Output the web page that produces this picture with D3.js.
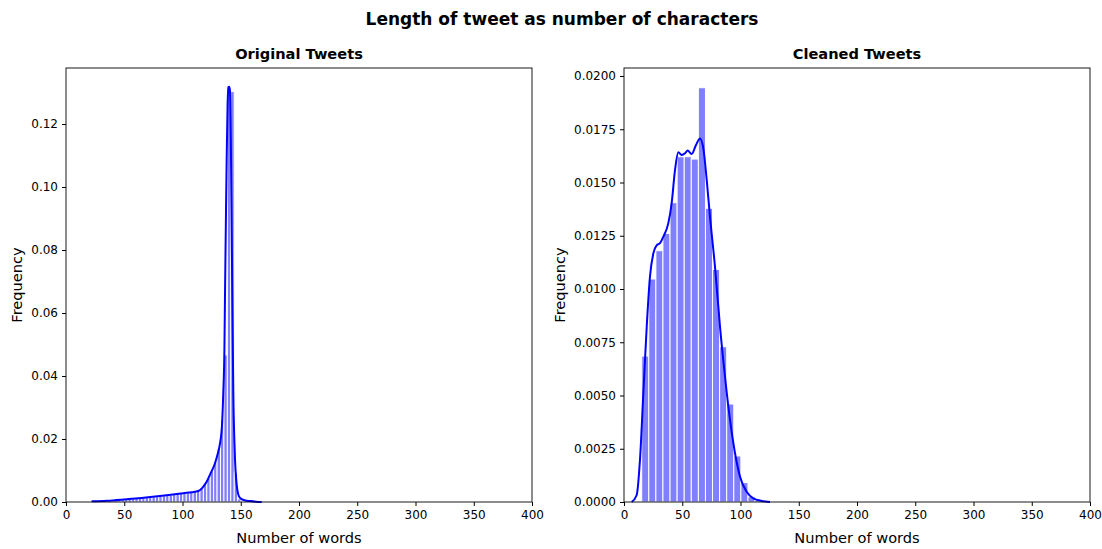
<!DOCTYPE html>
<html>
<head>
<meta charset="utf-8">
<script src="https://cdn.jsdelivr.net/npm/d3@7"></script>
<style>
  html, body { margin: 0; padding: 0; background: #fff; }
  svg text { font-family: "DejaVu Sans", sans-serif; fill: #000; }
</style>
</head>
<body>
<svg id="fig" width="1102" height="549"></svg>
<script>
// Original tweets: 50 bins, start edge and width
const origBinStart = 20.9;
const origBinWidth = 2.94;
const origHeights = [
  0.0001, 0.0002, 0.0002, 0.0003, 0.0003, 0.0004, 0.0004, 0.0005, 0.0006, 0.0007,
  0.0008, 0.0009, 0.0010, 0.0011, 0.0012, 0.0013, 0.0014, 0.0015, 0.0016, 0.0017,
  0.0018, 0.0020, 0.0022, 0.0022, 0.0024, 0.0025, 0.0027, 0.0028, 0.0029, 0.0031,
  0.0033, 0.0036, 0.0045, 0.0058, 0.0075, 0.0098, 0.0128, 0.0170, 0.0260, 0.0467,
  0.1318, 0.1303, 0.0092, 0.0010, 0.0003, 0.0001, 0.0001, 0.0000, 0.0000, 0.0001
];
// Original tweets: density curve
const origKdeX = [22, 35, 52.1, 65, 80.7, 90, 100.7, 108, 113.6, 117, 120.7, 124, 127.9, 130, 132.2, 134, 135, 136, 136.5, 137.2, 137.9, 138.7, 139.3, 140.1, 140.8, 141.5, 142.2, 142.9, 143.6, 144.4, 145.1, 146, 147.1, 148.5, 150.8, 154, 157.9, 163, 168];
const origKdeY = [0.0002, 0.0004, 0.0009, 0.0013, 0.0019, 0.0023, 0.0028, 0.0031, 0.0035, 0.0045, 0.0064, 0.0090, 0.0123, 0.0150, 0.0186, 0.0250, 0.0345, 0.0490, 0.0663, 0.0880, 0.1086, 0.1260, 0.1317, 0.1318, 0.1303, 0.1150, 0.0874, 0.0600, 0.0345, 0.0210, 0.0133, 0.0075, 0.0038, 0.0018, 0.0009, 0.0005, 0.0003, 0.0001, 0.0000];

// Cleaned tweets: 17 bins
const cleanBinStart = 15.2;
const cleanBinWidth = 6.08;
const cleanHeights = [
  0.00685, 0.01047, 0.0118, 0.01261, 0.01405, 0.01621, 0.01621, 0.0161, 0.01945,
  0.01379, 0.01092, 0.00729, 0.0046, 0.00216, 0.00091, 0.00025, 0.0001
];
// Cleaned tweets: density curve
const cleanKdeX = [6.6, 10.9, 13.7, 16.6, 19.5, 22.3, 25.2, 28.0, 30.9, 33.8, 38.0, 40.9, 43.8, 46.6, 49.5, 52.4, 54.6, 58.1, 61.8, 65.2, 68.1, 71.0, 73.8, 78.1, 82.4, 86.7, 91.0, 95.3, 99.6, 105.3, 111.0, 118.2, 125.3];
const cleanKdeY = [0, 0.00033, 0.00197, 0.0051, 0.00823, 0.01058, 0.01168, 0.01205, 0.01215, 0.01246, 0.01308, 0.01402, 0.01559, 0.01642, 0.01629, 0.01637, 0.0165, 0.01634, 0.01676, 0.01707, 0.0166, 0.01512, 0.0134, 0.01105, 0.00823, 0.00588, 0.00385, 0.00229, 0.00119, 0.00048, 0.00017, 0.00005, 0];

const xTicks = [0, 50, 100, 150, 200, 250, 300, 350, 400];
const origYTicks = [0, 0.02, 0.04, 0.06, 0.08, 0.10, 0.12];
const cleanYTicks = [0, 0.0025, 0.005, 0.0075, 0.01, 0.0125, 0.015, 0.0175, 0.02];

const svg = d3.select("#fig");

svg.append("text")
  .attr("x", 562).attr("y", 25)
  .attr("text-anchor", "middle")
  .attr("font-size", 17).attr("font-weight", "bold")
  .text("Length of tweet as number of characters");

function panel(opts) {
  const { left, right, top, bottom, yMax, yTicks, yFmt, binStart, binWidth, heights, kx, ky, title } = opts;
  const x = d3.scaleLinear().domain([0, 400]).range([left, right]);
  const y = d3.scaleLinear().domain([0, yMax]).range([bottom, top]);
  const g = svg.append("g");

  const bins = heights.map((h, i) => ({ x0: binStart + i * binWidth, x1: binStart + (i + 1) * binWidth, h }));
  g.append("g").selectAll("rect").data(bins).join("rect")
    .attr("x", d => x(d.x0))
    .attr("width", d => x(d.x1) - x(d.x0))
    .attr("y", d => y(d.h))
    .attr("height", d => y(0) - y(d.h))
    .attr("fill", "rgba(0,0,255,0.5)")
    .attr("stroke", "#fff")
    .attr("stroke-width", 1);

  const pts = kx.map((v, i) => [v, ky[i]]);
  g.append("path").datum(pts)
    .attr("fill", "none")
    .attr("stroke", "#0000ff")
    .attr("stroke-width", 2)
    .attr("d", d3.line().x(d => x(d[0])).y(d => y(d[1])).curve(d3.curveMonotoneX));

  // frame
  g.append("rect")
    .attr("x", left).attr("y", top)
    .attr("width", right - left).attr("height", bottom - top)
    .attr("fill", "none").attr("stroke", "#000").attr("stroke-width", 0.9);

  const xAxis = g.append("g").attr("transform", `translate(0,${bottom})`)
    .call(d3.axisBottom(x).tickValues(xTicks).tickSize(4).tickPadding(4).tickFormat(d3.format("d")));
  const yAxis = g.append("g").attr("transform", `translate(${left},0)`)
    .call(d3.axisLeft(y).tickValues(yTicks).tickSize(4).tickPadding(4).tickFormat(yFmt));
  [xAxis, yAxis].forEach(a => {
    a.select(".domain").remove();
    a.selectAll("text").attr("font-size", 12).attr("font-family", "DejaVu Sans").attr("fill", "#000");
    a.selectAll("line").attr("stroke", "#000");
  });

  svg.append("text")
    .attr("x", (left + right) / 2).attr("y", top - 9)
    .attr("text-anchor", "middle").attr("font-size", 14.6).attr("font-weight", "bold")
    .text(title);
  svg.append("text")
    .attr("x", (left + right) / 2).attr("y", 543)
    .attr("text-anchor", "middle").attr("font-size", 14.6)
    .text("Number of words");
  svg.append("text")
    .attr("transform", `translate(${opts.ylabX},${(top + bottom) / 2}) rotate(-90)`)
    .attr("text-anchor", "middle").attr("font-size", 14.6)
    .text("Frequency");
}

panel({
  left: 66, right: 532, top: 68, bottom: 502, yMax: (502 - 68) / 3150,
  yTicks: origYTicks, yFmt: d3.format(".2f"),
  binStart: origBinStart, binWidth: origBinWidth, heights: origHeights,
  kx: origKdeX, ky: origKdeY, title: "Original Tweets", ylabX: 22
});
panel({
  left: 624, right: 1090, top: 68, bottom: 502, yMax: (502 - 68) / 21300,
  yTicks: cleanYTicks, yFmt: d3.format(".4f"),
  binStart: cleanBinStart, binWidth: cleanBinWidth, heights: cleanHeights,
  kx: cleanKdeX, ky: cleanKdeY, title: "Cleaned Tweets", ylabX: 565
});
</script>
</body>
</html>
